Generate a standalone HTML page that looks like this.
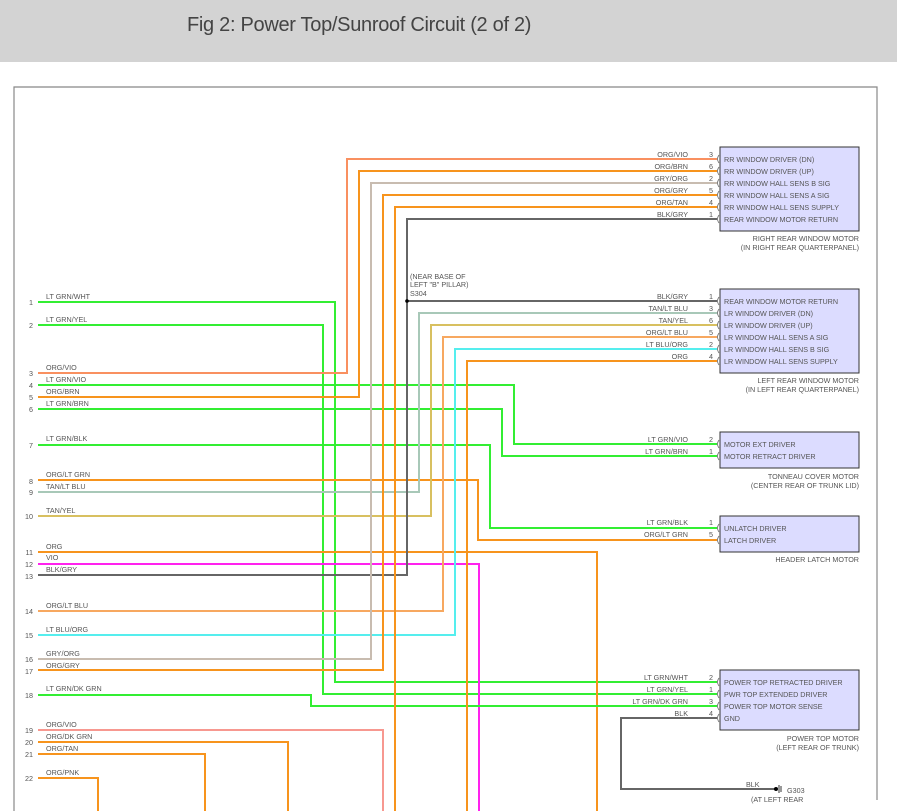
<!DOCTYPE html>
<html><head><meta charset="utf-8"><style>
html,body{margin:0;padding:0;background:#fff;width:897px;height:811px;overflow:hidden}
.hdr{position:absolute;left:0;top:0;width:897px;height:62px;background:#d3d3d3}
.hdr span{position:absolute;left:187px;top:14px;font:20px "Liberation Sans",sans-serif;color:#444;letter-spacing:-0.3px}
svg{position:absolute;left:0;top:0}
text{font-family:"Liberation Sans",sans-serif;font-size:7.2px;fill:#555}
</style></head><body>
<div class="hdr"><span>Fig 2: Power Top/Sunroof Circuit (2 of 2)</span></div>
<svg width="897" height="811" viewBox="0 0 897 811">
<g fill="none" stroke="#888" stroke-width="1.2">
<path d="M14,811 V87 H877 V800"/>
</g>
<g fill="none" stroke-width="2">
<path stroke="#33ee33" d="M38,302 H335 V682 H717"/>
<path stroke="#33ee33" d="M38,325 H323 V694 H717"/>
<path stroke="#f99060" d="M38,373 H347 V159 H717"/>
<path stroke="#33ee33" d="M38,385 H514 V444 H717"/>
<path stroke="#f7941d" d="M38,397 H359 V171 H717"/>
<path stroke="#33ee33" d="M38,409 H502 V456 H717"/>
<path stroke="#33ee33" d="M38,445 H490 V528 H717"/>
<path stroke="#f7941d" d="M38,480 H478 V540 H717"/>
<path stroke="#a8c8b8" d="M38,492 H419 V313 H717"/>
<path stroke="#d8c060" d="M38,516 H431 V325 H717"/>
<path stroke="#f7941d" d="M38,552 H597 V811"/>
<path stroke="#ff22ee" d="M38,564 H479 V811"/>
<path stroke="#666" d="M38,575 H407 V219 H717"/>
<path stroke="#666" d="M407,301 H717"/>
<path stroke="#f7a860" d="M38,611 H443 V337 H717"/>
<path stroke="#55eeee" d="M38,635 H455 V349 H717"/>
<path stroke="#c8bcb0" d="M38,659 H371 V183 H717"/>
<path stroke="#f7941d" d="M38,670 H383 V195 H717"/>
<path stroke="#33ee33" d="M38,695 H311 V706 H717"/>
<path stroke="#f79890" d="M38,730 H383 V811"/>
<path stroke="#f7941d" d="M38,742 H288 V811"/>
<path stroke="#f7941d" d="M38,754 H205 V811"/>
<path stroke="#f7941d" d="M38,778 H98 V811"/>
<path stroke="#f7941d" d="M395,811 V207 H717"/>
<path stroke="#f7941d" d="M467,811 V361 H717"/>
<path stroke="#666" d="M717,718 H621 V789 H775"/>
</g>
<circle cx="407" cy="301" r="1.8" fill="#000"/>
<circle cx="776" cy="789" r="2" fill="#000"/>
<path d="M779,785 V793 M781,786 V792" stroke="#333" stroke-width="1"/>
<g fill="#dcdcff" stroke="#333" stroke-width="1">
<rect x="720" y="147" width="139" height="84"/>
<rect x="720" y="289" width="139" height="84"/>
<rect x="720" y="432" width="139" height="36"/>
<rect x="720" y="516" width="139" height="36"/>
<rect x="720" y="670" width="139" height="60"/>
</g>
<g fill="none" stroke="#666" stroke-width="0.8">
<path d="M719,155 q-3,4 0,8 M719,167 q-3,4 0,8 M719,179 q-3,4 0,8 M719,191 q-3,4 0,8 M719,203 q-3,4 0,8 M719,215 q-3,4 0,8"/>
<path d="M719,297 q-3,4 0,8 M719,309 q-3,4 0,8 M719,321 q-3,4 0,8 M719,333 q-3,4 0,8 M719,345 q-3,4 0,8 M719,357 q-3,4 0,8"/>
<path d="M719,440 q-3,4 0,8 M719,452 q-3,4 0,8 M719,524 q-3,4 0,8 M719,536 q-3,4 0,8"/>
<path d="M719,678 q-3,4 0,8 M719,690 q-3,4 0,8 M719,702 q-3,4 0,8 M719,714 q-3,4 0,8"/>
</g>
<g text-anchor="end">
<text x="33" y="305">1</text><text x="33" y="328">2</text><text x="33" y="376">3</text><text x="33" y="388">4</text><text x="33" y="400">5</text><text x="33" y="412">6</text><text x="33" y="448">7</text><text x="33" y="484">8</text><text x="33" y="495">9</text><text x="33" y="519">10</text><text x="33" y="555">11</text><text x="33" y="567">12</text><text x="33" y="579">13</text><text x="33" y="614">14</text><text x="33" y="638">15</text><text x="33" y="662">16</text><text x="33" y="674">17</text><text x="33" y="698">18</text><text x="33" y="733">19</text><text x="33" y="745">20</text><text x="33" y="757">21</text><text x="33" y="781">22</text>
<text x="688" y="157">ORG/VIO</text><text x="688" y="169">ORG/BRN</text><text x="688" y="181">GRY/ORG</text><text x="688" y="193">ORG/GRY</text><text x="688" y="205">ORG/TAN</text><text x="688" y="217">BLK/GRY</text>
<text x="713" y="157">3</text><text x="713" y="169">6</text><text x="713" y="181">2</text><text x="713" y="193">5</text><text x="713" y="205">4</text><text x="713" y="217">1</text>
<text x="688" y="299">BLK/GRY</text><text x="688" y="311">TAN/LT BLU</text><text x="688" y="323">TAN/YEL</text><text x="688" y="335">ORG/LT BLU</text><text x="688" y="347">LT BLU/ORG</text><text x="688" y="359">ORG</text>
<text x="713" y="299">1</text><text x="713" y="311">3</text><text x="713" y="323">6</text><text x="713" y="335">5</text><text x="713" y="347">2</text><text x="713" y="359">4</text>
<text x="688" y="442">LT GRN/VIO</text><text x="688" y="454">LT GRN/BRN</text><text x="713" y="442">2</text><text x="713" y="454">1</text>
<text x="688" y="525">LT GRN/BLK</text><text x="688" y="537">ORG/LT GRN</text><text x="713" y="525">1</text><text x="713" y="537">5</text>
<text x="688" y="680">LT GRN/WHT</text><text x="688" y="692">LT GRN/YEL</text><text x="688" y="704">LT GRN/DK GRN</text><text x="688" y="716">BLK</text>
<text x="713" y="680">2</text><text x="713" y="692">1</text><text x="713" y="704">3</text><text x="713" y="716">4</text>
<text x="859" y="241">RIGHT REAR WINDOW MOTOR</text><text x="859" y="250">(IN RIGHT REAR QUARTERPANEL)</text>
<text x="859" y="383">LEFT REAR WINDOW MOTOR</text><text x="859" y="392">(IN LEFT REAR QUARTERPANEL)</text>
<text x="859" y="479">TONNEAU COVER MOTOR</text><text x="859" y="488">(CENTER REAR OF TRUNK LID)</text>
<text x="859" y="562">HEADER LATCH MOTOR</text>
<text x="859" y="741">POWER TOP MOTOR</text><text x="859" y="750">(LEFT REAR OF TRUNK)</text>
</g>
<g>
<text x="46" y="299">LT GRN/WHT</text><text x="46" y="322">LT GRN/YEL</text><text x="46" y="370">ORG/VIO</text><text x="46" y="382">LT GRN/VIO</text><text x="46" y="394">ORG/BRN</text><text x="46" y="406">LT GRN/BRN</text><text x="46" y="441">LT GRN/BLK</text><text x="46" y="477">ORG/LT GRN</text><text x="46" y="489">TAN/LT BLU</text><text x="46" y="513">TAN/YEL</text><text x="46" y="549">ORG</text><text x="46" y="560">VIO</text><text x="46" y="572">BLK/GRY</text><text x="46" y="608">ORG/LT BLU</text><text x="46" y="632">LT BLU/ORG</text><text x="46" y="656">GRY/ORG</text><text x="46" y="668">ORG/GRY</text><text x="46" y="691">LT GRN/DK GRN</text><text x="46" y="727">ORG/VIO</text><text x="46" y="739">ORG/DK GRN</text><text x="46" y="751">ORG/TAN</text><text x="46" y="775">ORG/PNK</text>
<text x="724" y="162">RR WINDOW DRIVER (DN)</text><text x="724" y="174">RR WINDOW DRIVER (UP)</text><text x="724" y="186">RR WINDOW HALL SENS B SIG</text><text x="724" y="198">RR WINDOW HALL SENS A SIG</text><text x="724" y="210">RR WINDOW HALL SENS SUPPLY</text><text x="724" y="222">REAR WINDOW MOTOR RETURN</text>
<text x="724" y="304">REAR WINDOW MOTOR RETURN</text><text x="724" y="316">LR WINDOW DRIVER (DN)</text><text x="724" y="328">LR WINDOW DRIVER (UP)</text><text x="724" y="340">LR WINDOW HALL SENS A SIG</text><text x="724" y="352">LR WINDOW HALL SENS B SIG</text><text x="724" y="364">LR WINDOW HALL SENS SUPPLY</text>
<text x="724" y="447">MOTOR EXT DRIVER</text><text x="724" y="459">MOTOR RETRACT DRIVER</text>
<text x="724" y="531">UNLATCH DRIVER</text><text x="724" y="543">LATCH DRIVER</text>
<text x="724" y="685">POWER TOP RETRACTED DRIVER</text><text x="724" y="697">PWR TOP EXTENDED DRIVER</text><text x="724" y="709">POWER TOP MOTOR SENSE</text><text x="724" y="721">GND</text>
<text x="410" y="279">(NEAR BASE OF</text><text x="410" y="287">LEFT "B" PILLAR)</text><text x="410" y="296">S304</text>
<text x="746" y="787">BLK</text><text x="787" y="793">G303</text><text x="751" y="802">(AT LEFT REAR</text>
</g>
</svg>
</body></html>
